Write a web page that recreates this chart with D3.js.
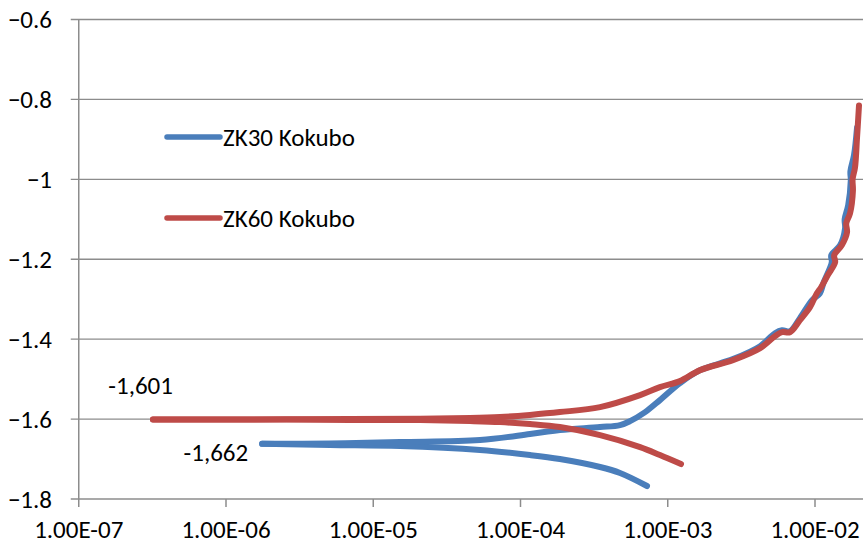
<!DOCTYPE html>
<html>
<head>
<meta charset="utf-8">
<script src="https://cdn.jsdelivr.net/npm/d3@7"></script>
<style>
  body { margin: 0; background: #fff; }
  text { font-family: Carlito, Calibri, "Open Sans", sans-serif; fill: #000; }
</style>
</head>
<body>
<svg id="svg"></svg>
<script>

////////////////////////////////////////////////////////////////////////
// Data (current density, potential)

// ZK30 Kokubo, cathodic branch (from the low end up to Ecorr)
let zk30CathI = [7.23e-4, 4.74e-4, 3.47e-4, 1.85e-4, 1.16e-4, 5.31e-5, 1.52e-5, 5.08e-6, 1.76e-6];
let zk30CathE = [-1.7675, -1.735, -1.72, -1.70, -1.69, -1.6775, -1.6675, -1.665, -1.662];

// ZK30 Kokubo, anodic branch
let zk30AnI = [1.76e-6, 5.08e-6, 1.52e-5, 5.31e-5, 1.16e-4, 1.85e-4, 3.47e-4, 4.74e-4, 5.55e-4,
               7.02e-4, 8.85e-4, 1.21e-3, 1.66e-3, 2.77e-3, 4.24e-3, 5.35e-3, 5.97e-3, 6.76e-3,
               7.90e-3, 9.55e-3, 1.08e-2, 1.14e-2, 1.30e-2, 1.29e-2, 1.48e-2, 1.60e-2, 1.59e-2,
               1.68e-2, 1.75e-2, 1.74e-2, 1.84e-2, 1.93e-2];
let zk30AnE = [-1.662, -1.661, -1.6575, -1.6525, -1.6375, -1.6275, -1.62, -1.615, -1.605,
               -1.5825, -1.5525, -1.51, -1.4775, -1.45, -1.4175, -1.385, -1.3775, -1.38,
               -1.3475, -1.3025, -1.285, -1.26, -1.2075, -1.19, -1.165, -1.1225, -1.10,
               -1.065, -1.0025, -0.98, -0.94, -0.87];

// ZK60 Kokubo, cathodic branch
let zk60CathI = [1.23e-3, 8.85e-4, 6.49e-4, 3.47e-4, 1.85e-4, 1.16e-4, 7.26e-5, 4.54e-5,
                 2.08e-5, 6.95e-6, 1.46e-6, 3.19e-7];
let zk60CathE = [-1.7125, -1.69, -1.67, -1.64, -1.62, -1.6125, -1.6075, -1.605,
                 -1.6025, -1.602, -1.601, -1.601];

// ZK60 Kokubo, anodic branch
let zk60AnI = [3.19e-7, 1.46e-6, 6.95e-6, 2.08e-5, 4.54e-5, 7.26e-5, 1.16e-4, 1.85e-4,
               3.47e-4, 6.49e-4, 8.85e-4, 1.21e-3, 1.66e-3, 2.77e-3, 4.24e-3, 5.35e-3,
               5.97e-3, 6.76e-3, 7.90e-3, 9.25e-3, 1.03e-2, 1.10e-2, 1.22e-2, 1.37e-2,
               1.35e-2, 1.52e-2, 1.65e-2, 1.63e-2, 1.73e-2, 1.81e-2, 1.80e-2, 1.87e-2,
               1.93e-2, 1.99e-2];
let zk60AnE = [-1.601, -1.6008, -1.600, -1.599, -1.5975, -1.595, -1.5895, -1.5825,
               -1.57, -1.54, -1.52, -1.505, -1.4775, -1.4525, -1.4225, -1.3925,
               -1.3825, -1.3825, -1.3525, -1.32, -1.285, -1.27, -1.24, -1.2075,
               -1.19, -1.165, -1.1325, -1.11, -1.085, -1.0275, -1.00, -0.97,
               -0.895, -0.815];

let yTicks = [-1.8, -1.6, -1.4, -1.2, -1, -0.8, -0.6];
let xTicks = [1e-7, 1e-6, 1e-5, 1e-4, 1e-3, 1e-2];
let xTickLabels = ["1.00E-07", "1.00E-06", "1.00E-05", "1.00E-04", "1.00E-03", "1.00E-02"];

let seriesNames = ["ZK30 Kokubo", "ZK60 Kokubo"];
let seriesColors = ["#4a7ebb", "#be4b48"];
let ecorrLabels = ["-1,662", "-1,601"];


////////////////////////////////////////////////////////////////////////
// Layout and scales

let winWidth = 863;
let winHeight = 544;
let plotLeft = 78.75, plotTop = 19.5, plotBottom = 499, plotRight = 863;
let fontSize = 25;

let svg = d3.select("#svg")
            .attr("width", winWidth)
            .attr("height", winHeight);

// one decade is ~147px, the right edge cuts the chart a bit past 1e-2
let xScale = d3.scaleLog()
               .domain([1e-7, Math.pow(10, -7 + (plotRight - plotLeft) / 147.25)])
               .range([plotLeft, plotRight]);

let yScale = d3.scaleLinear()
               .domain([-1.8, -0.6])
               .range([plotBottom, plotTop]);

let gridColor = "#8c8c8c";


////////////////////////////////////////////////////////////////////////
// Grid and axes

svg.append("g")
   .selectAll("line")
   .data(yTicks)
   .enter()
   .append("line")
   .attr("x1", plotLeft - 8)
   .attr("x2", plotRight)
   .attr("y1", d => yScale(d))
   .attr("y2", d => yScale(d))
   .attr("stroke", gridColor)
   .attr("stroke-width", 1.3);

svg.append("line")
   .attr("x1", plotLeft).attr("x2", plotLeft)
   .attr("y1", plotTop).attr("y2", plotBottom)
   .attr("stroke", gridColor)
   .attr("stroke-width", 1.5);

svg.append("g")
   .selectAll("line")
   .data(xTicks)
   .enter()
   .append("line")
   .attr("x1", d => xScale(d))
   .attr("x2", d => xScale(d))
   .attr("y1", plotBottom)
   .attr("y2", plotBottom + 8)
   .attr("stroke", gridColor)
   .attr("stroke-width", 1.5);

svg.append("g")
   .selectAll("text")
   .data(yTicks)
   .enter()
   .append("text")
   .attr("x", 52)
   .attr("y", d => yScale(d) + 8.5)
   .attr("text-anchor", "end")
   .attr("font-size", fontSize)
   .text(d => d3.format("")(d));

svg.append("g")
   .selectAll("text")
   .data(xTicks)
   .enter()
   .append("text")
   .attr("x", d => xScale(d))
   .attr("y", 537.5)
   .attr("text-anchor", "middle")
   .attr("font-size", fontSize)
   .text((d, i) => xTickLabels[i]);


////////////////////////////////////////////////////////////////////////
// Curves

let line = d3.line()
             .curve(d3.curveCatmullRom.alpha(0.5))
             .x(d => xScale(d[0]))
             .y(d => yScale(d[1]));

let branches = [
  { I: zk30CathI, E: zk30CathE, s: 0 },
  { I: zk30AnI,   E: zk30AnE,   s: 0 },
  { I: zk60CathI, E: zk60CathE, s: 1 },
  { I: zk60AnI,   E: zk60AnE,   s: 1 }
];

svg.append("g")
   .selectAll("path")
   .data(branches)
   .enter()
   .append("path")
   .attr("d", b => line(b.I.map((v, i) => [v, b.E[i]])))
   .attr("fill", "none")
   .attr("stroke", b => seriesColors[b.s])
   .attr("stroke-width", 6)
   .attr("stroke-linecap", "round")
   .attr("stroke-linejoin", "round");


////////////////////////////////////////////////////////////////////////
// Legend and Ecorr labels

let legend = svg.append("g")
                .selectAll("g")
                .data(seriesNames)
                .enter()
                .append("g")
                .attr("transform", (d, i) => "translate(167," + (137 + i * 81) + ")");

legend.append("line")
      .attr("x1", 0).attr("x2", 53)
      .attr("y1", 0).attr("y2", 0)
      .attr("stroke", (d, i) => seriesColors[i])
      .attr("stroke-width", 5.5)
      .attr("stroke-linecap", "round");

legend.append("text")
      .attr("x", 56)
      .attr("y", 8.5)
      .attr("font-size", fontSize)
      .text(d => d);

// labels sit left of where each curve starts
svg.append("text")
   .attr("x", xScale(zk30CathI[zk30CathI.length - 1]) - 14)
   .attr("y", yScale(zk30CathE[zk30CathE.length - 1]) + 17.5)
   .attr("text-anchor", "end")
   .attr("font-size", fontSize)
   .text(ecorrLabels[0]);

svg.append("text")
   .attr("x", xScale(zk60CathI[zk60CathI.length - 1]) + 20)
   .attr("y", yScale(zk60CathE[zk60CathE.length - 1]) - 25.5)
   .attr("text-anchor", "end")
   .attr("font-size", fontSize)
   .text(ecorrLabels[1]);

</script>
</body>
</html>
